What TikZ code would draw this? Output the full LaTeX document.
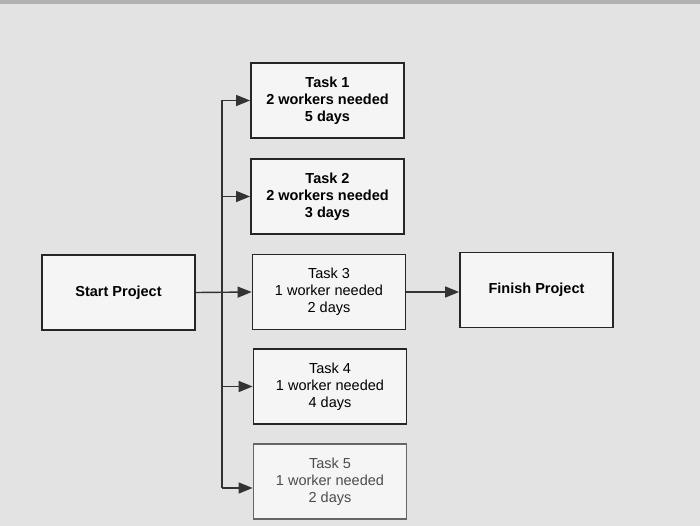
\documentclass[tikz,border=0pt]{standalone}
\usepackage{fontspec}
\setmainfont{Liberation Sans}
\usetikzlibrary{arrows.meta}
\begin{document}
\begin{tikzpicture}[x=1pt,y=-1pt,
  box/.style={draw=black!85,line width=1.8pt,fill=white!92!gray,minimum width=153pt,minimum height=75pt,align=center,font=\fontsize{14.5}{17}\selectfont,inner sep=0pt},
  conn/.style={line width=1.4pt,draw=black!80},
  arr/.style={conn,-{Triangle[length=14pt,width=11pt]}}]
\fill[gray!22] (0,0) rectangle (700,526);
\fill[gray!60] (0,0) rectangle (700,4);
\useasboundingbox (0,0) rectangle (700,526);
\node[box] (t1) at (327.5,100.5) {\textbf{Task 1}\\\textbf{2 workers needed}\\\textbf{5 days}};
\node[box] (t2) at (327.5,196.5) {\textbf{Task 2}\\\textbf{2 workers needed}\\\textbf{3 days}};
\node[box] (t3) at (329,292) {Task 3\\1 worker needed\\2 days};
\node[box] (t4) at (330,386.5) {Task 4\\1 worker needed\\4 days};
\node[box,draw=black!60,text=black!70] (t5) at (330,481.5) {Task 5\\1 worker needed\\2 days};
\node[box] (s) at (118.5,292.5) {\textbf{Start Project}};
\node[box] (f) at (536.5,290) {\textbf{Finish Project}};
\coordinate (top) at (222,100.5);
\coordinate (bot) at (222,488);
\draw[conn] (top) -- (bot);
\draw[arr] (top) -- (t1.west);
\draw[arr] (222,196.5) -- (t2.west);
\draw[arr] (s.east) -- (t3.west);
\draw[arr] (222,386.5) -- (t4.west);
\draw[arr] (bot) -- (t5.west |- bot);
\draw[arr] (t3.east) -- (t3.east -| f.west);
\end{tikzpicture}
\end{document}
